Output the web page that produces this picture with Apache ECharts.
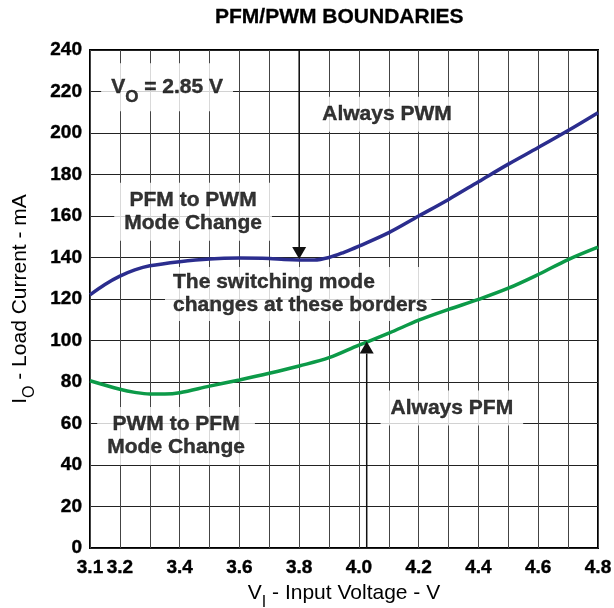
<!DOCTYPE html>
<html>
<head>
<meta charset="utf-8">
<script src="https://cdn.jsdelivr.net/npm/echarts@6/dist/echarts.min.js"></script>
<style>
html,body{margin:0;padding:0;background:#fff;}
#chart{width:614px;height:608px;}
</style>
</head>
<body>
<div id="chart"></div>
<script>
// ---- data ----
var pfmToPwmX = [3.1, 3.15, 3.2, 3.25, 3.3, 3.4, 3.5, 3.6, 3.7, 3.75, 3.8, 3.85, 3.9, 3.95, 4.0, 4.1, 4.2, 4.3, 4.4, 4.5, 4.6, 4.7, 4.8];
var pfmToPwmY = [122, 127, 131, 134, 136, 138, 139.3, 139.7, 139.5, 139, 138.8, 138.8, 140, 142.5, 145.5, 152, 160, 168, 176.5, 185, 193, 201.2, 209.8];
var pwmToPfmX = [3.1, 3.2, 3.25, 3.3, 3.35, 3.4, 3.5, 3.6, 3.7, 3.8, 3.9, 4.0, 4.1, 4.2, 4.3, 4.4, 4.5, 4.6, 4.7, 4.8];
var pwmToPfmY = [80.6, 76.5, 75, 74.2, 74.2, 74.8, 78, 81, 84.2, 87.7, 91.7, 97.8, 103.5, 109.8, 115, 119.8, 125.2, 131.8, 139, 145];
var xTickLabels = ['3.1', '3.2', '3.4', '3.6', '3.8', '4.0', '4.2', '4.4', '4.6', '4.8'];
var yTickLabels = ['0', '20', '40', '60', '80', '100', '120', '140', '160', '180', '200', '220', '240'];
// arrows: [x, start, end]
var arrowDown = [3.8, 240, 139.3];
var arrowUp = [4.026, 0, 99.5];
// annotations: [x, y, text, align]
var notes = [
  [3.358, 222, '{m|V}{s|O}{m| = 2.85 V}', 'center'],
  [4.094, 209, 'Always PWM', 'center'],
  [3.445, 162, 'PFM to PWM\nMode Change', 'center'],
  [3.351, 122.4, 'The switching mode\nchanges at these borders', 'left'],
  [4.311, 67.5, 'Always PFM', 'center'],
  [3.388, 54, 'PWM to PFM\nMode Change', 'center']
];

function zip(xs, ys) { return xs.map(function (x, i) { return [x, ys[i]]; }); }

var FONT = '"Liberation Sans", Arial, sans-serif';
var chart = echarts.init(document.getElementById('chart'), null, {renderer: 'canvas'});

var option = {
  backgroundColor: '#fff',
  animation: false,
  title: {
    text: 'PFM/PWM BOUNDARIES',
    left: 210, top: 2,
    textStyle: {fontFamily: FONT, fontWeight: 'bold', fontSize: 21, color: '#000', textBorderColor: '#000', textBorderWidth: 0.3}
  },
  grid: {left: 90, right: 16, top: 50, bottom: 60, show: true, borderColor: '#000', borderWidth: 2, containLabel: false, outerBoundsMode: 'none'},
  xAxis: {
    type: 'value', min: 3.1, max: 4.8, interval: 0.1,
    axisLine: {show: false}, axisTick: {show: false},
    splitLine: {show: true, lineStyle: {color: '#444', width: 1}},
    axisLabel: {
      margin: 10, fontFamily: FONT, fontWeight: 'bold', fontSize: 19, color: '#000',
      textBorderColor: '#000', textBorderWidth: 0.4,
      showMinLabel: true, showMaxLabel: true, hideOverlap: false,
      formatter: function (v) { var s = (Math.round(v * 10) / 10).toFixed(1); return xTickLabels.indexOf(s) >= 0 ? s : ''; }
    },
    name: '{m|V}{s|I}{m| - Input Voltage - V}',
    nameLocation: 'middle', nameGap: 28,
    nameTextStyle: {
      rich: {
        m: {fontFamily: FONT, fontSize: 21, color: '#000', lineHeight: 24},
        s: {fontFamily: FONT, fontSize: 16, color: '#000', verticalAlign: 'bottom', lineHeight: 35}
      }
    }
  },
  yAxis: {
    type: 'value', min: 0, max: 240, interval: 20,
    axisLine: {show: false}, axisTick: {show: false},
    splitLine: {show: true, lineStyle: {color: '#222', width: 1}},
    axisLabel: {
      margin: 8, fontFamily: FONT, fontWeight: 'bold', fontSize: 19, color: '#000',
      textBorderColor: '#000', textBorderWidth: 0.4,
      formatter: function (v) { var s = String(Math.round(v)); return yTickLabels.indexOf(s) >= 0 ? s : ''; }
    },
    name: '{m|I}{s|O}{m| - Load Current - mA}',
    nameLocation: 'middle', nameGap: 52, nameRotate: 90,
    nameTextStyle: {
      rich: {
        m: {fontFamily: FONT, fontSize: 21, color: '#000', lineHeight: 24},
        s: {fontFamily: FONT, fontSize: 16, color: '#000', verticalAlign: 'bottom', lineHeight: 35}
      }
    }
  },
  series: [
    {
      name: 'notes', type: 'scatter', symbolSize: 0, z: 1, silent: true,
      data: notes.map(function (n) {
        return {
          value: [n[0], n[1]],
          label: {
            show: true, position: n[3] === 'left' ? 'right' : 'inside', distance: 0,
            align: n[3], verticalAlign: 'middle',
            formatter: n[2],
            fontFamily: FONT, fontWeight: 'bold', fontSize: 21, color: '#000', lineHeight: 23,
            textBorderColor: '#000', textBorderWidth: 0.4,
            backgroundColor: '#fff', padding: n[3] === 'left' ? [4, 4, 4, 8] : [6, 10, 6, 10],
            rich: {
              m: {fontFamily: FONT, fontWeight: 'bold', fontSize: 21, color: '#000', lineHeight: 24, textBorderColor: '#000', textBorderWidth: 0.4},
              s: {fontFamily: FONT, fontWeight: 'bold', fontSize: 17, color: '#000', verticalAlign: 'bottom', lineHeight: 36, textBorderColor: '#000', textBorderWidth: 0.4}
            }
          }
        };
      })
    },
    {
      name: 'PFM to PWM', type: 'line', smooth: 0.35, showSymbol: false, z: 3,
      lineStyle: {color: '#2b2d8e', width: 3.5},
      data: zip(pfmToPwmX, pfmToPwmY)
    },
    {
      name: 'PWM to PFM', type: 'line', smooth: 0.35, showSymbol: false, z: 3,
      lineStyle: {color: '#0c9a48', width: 3.5},
      data: zip(pwmToPfmX, pwmToPfmY)
    },
    {
      name: 'arrows', type: 'custom', z: 4, silent: true,
      data: [arrowDown, arrowUp],
      encode: {x: 0, y: [1, 2]},
      renderItem: function (params, api) {
        var x = api.value(0), a = api.value(1), b = api.value(2);
        var p0 = api.coord([x, a]), p1 = api.coord([x, b]);
        var dir = p1[1] > p0[1] ? 1 : -1;
        var h = 12, w = 7;
        return {
          type: 'group',
          children: [
            {type: 'line', shape: {x1: p0[0], y1: p0[1], x2: p1[0], y2: p1[1] - dir * h}, style: {stroke: '#111', lineWidth: 1.5}},
            {type: 'polygon', shape: {points: [[p1[0], p1[1]], [p1[0] - w, p1[1] - dir * h], [p1[0] + w, p1[1] - dir * h]]}, style: {fill: '#111'}}
          ]
        };
      }
    }
  ]
};
chart.setOption(option);
</script>
</body>
</html>
